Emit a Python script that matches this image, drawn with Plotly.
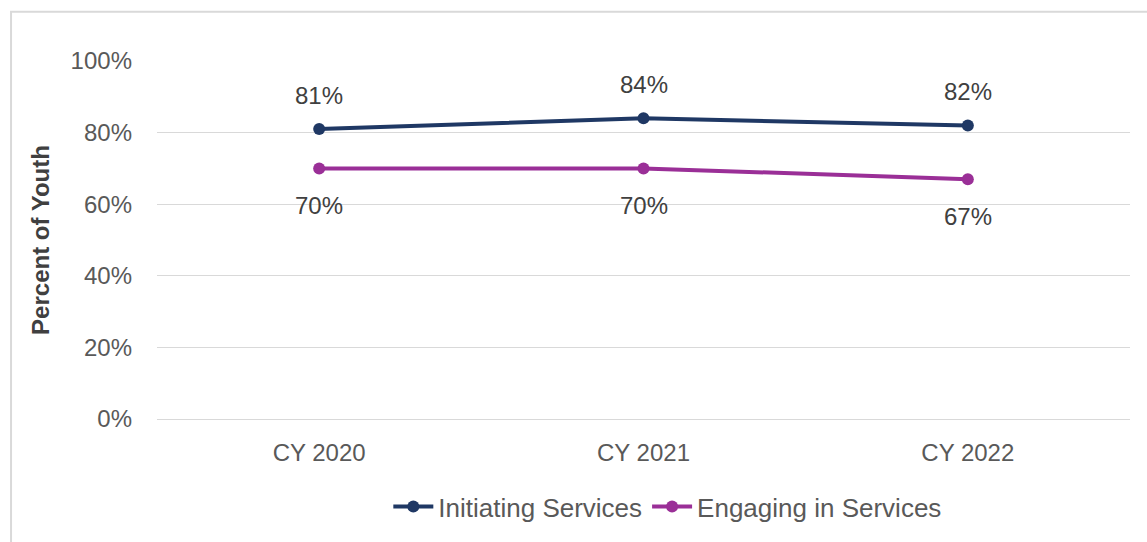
import plotly.graph_objects as go

# Calendar years shown on the category axis
years = ["CY 2020", "CY 2021", "CY 2022"]

# Share of youth per year (fractions)
initiating = [0.81, 0.84, 0.82]
engaging = [0.70, 0.70, 0.67]

# Y-axis ticks
y_ticks = [0, 0.2, 0.4, 0.6, 0.8, 1.0]
y_tick_labels = ["0%", "20%", "40%", "60%", "80%", "100%"]

NAVY = "#1F3864"
PURPLE = "#9A2F97"
TEXT = "#595959"
LABEL = "#404040"
GRID = "#D9D9D9"
FONT = "Liberation Sans, Arial, sans-serif"

fig = go.Figure()

fig.add_trace(go.Scatter(
    x=years, y=initiating, name="Initiating Services",
    mode="lines+markers",
    line=dict(color=NAVY, width=4),
    marker=dict(color=NAVY, size=12),
))
fig.add_trace(go.Scatter(
    x=years, y=engaging, name="Engaging in Services",
    mode="lines+markers",
    line=dict(color=PURPLE, width=4),
    marker=dict(color=PURPLE, size=12),
))

# Value labels: above the navy line, below the purple line
for yr, v in zip(years, initiating):
    fig.add_annotation(x=yr, y=v, text=f"{round(v * 100)}%", showarrow=False,
                       yshift=34, font=dict(size=24, color=LABEL, family=FONT))
for yr, v in zip(years, engaging):
    fig.add_annotation(x=yr, y=v, text=f"{round(v * 100)}%", showarrow=False,
                       yshift=-37, font=dict(size=24, color=LABEL, family=FONT))

# Thin frame around the chart area
fig.add_shape(type="rect", xref="paper", yref="paper",
              x0=-0.150, y0=-0.40, x1=1.05, y1=1.1377,
              line=dict(color=GRID, width=2), fillcolor="rgba(0,0,0,0)",
              layer="below")

fig.update_layout(
    width=1147, height=542,
    margin=dict(l=157, r=17, t=61, b=118),
    paper_bgcolor="white", plot_bgcolor="white",
    font=dict(family=FONT, color=TEXT, size=24),
    showlegend=True,
    legend=dict(orientation="h", x=0.525, xanchor="center", y=-0.245, yanchor="middle",
                font=dict(size=26, color=TEXT, family=FONT),
                itemwidth=40, tracegroupgap=0),
    xaxis=dict(
        range=[-0.5, 2.5],
        showgrid=False, showline=False, zeroline=False, ticks="",
        tickfont=dict(size=24, color=TEXT), ticklabelstandoff=17,
    ),
    yaxis=dict(
        range=[0, 1.0], tickvals=y_ticks, ticktext=y_tick_labels,
        showgrid=True, gridcolor=GRID, gridwidth=1,
        zeroline=True, zerolinecolor=GRID, zerolinewidth=1,
        showline=False, ticks="",
        tickfont=dict(size=24, color=TEXT), ticklabelstandoff=24,
        title=dict(text="<b>Percent of Youth</b>", font=dict(size=24, color=LABEL),
                   standoff=14),
    ),
)

fig.write_html("out.html")
